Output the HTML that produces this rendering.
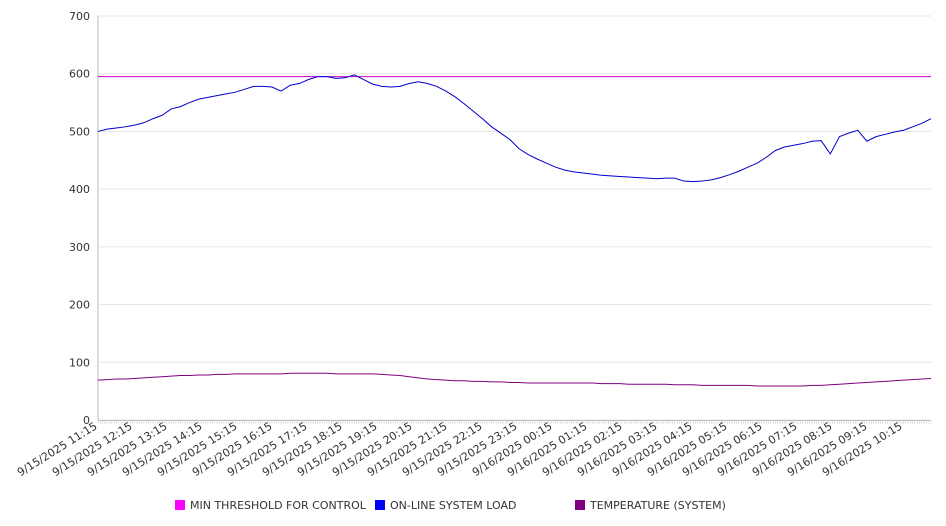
<!DOCTYPE html>
<html><head><meta charset="utf-8">
<style>
html,body{margin:0;padding:0;background:#fff;}
svg{display:block;font-family:"DejaVu Sans","Liberation Sans",sans-serif;}
</style></head>
<body>
<svg id="chart" width="946" height="526" viewBox="0 0 946 526" xmlns="http://www.w3.org/2000/svg">
<g id="grid"></g>
<g id="yaxis"></g>
<g id="xaxis"></g>
<g id="series"></g>
<g id="legend">
  <rect x="175" y="500" width="10" height="10" fill="#ff00ff"/>
  <text x="190" y="509" font-size="11" fill="#333">MIN THRESHOLD FOR CONTROL</text>
  <rect x="375" y="500" width="10" height="10" fill="#0000ff"/>
  <text x="390" y="509" font-size="11" fill="#333">ON-LINE SYSTEM LOAD</text>
  <rect x="575" y="500" width="10" height="10" fill="#800080"/>
  <text x="590" y="509" font-size="11" fill="#333">TEMPERATURE (SYSTEM)</text>
</g>
</svg>
<script>
const tickLabels = ["9/15/2025 11:15","9/15/2025 12:15","9/15/2025 13:15","9/15/2025 14:15","9/15/2025 15:15","9/15/2025 16:15","9/15/2025 17:15","9/15/2025 18:15","9/15/2025 19:15","9/15/2025 20:15","9/15/2025 21:15","9/15/2025 22:15","9/15/2025 23:15","9/16/2025 00:15","9/16/2025 01:15","9/16/2025 02:15","9/16/2025 03:15","9/16/2025 04:15","9/16/2025 05:15","9/16/2025 06:15","9/16/2025 07:15","9/16/2025 08:15","9/16/2025 09:15","9/16/2025 10:15"];
const yTicks = [0,100,200,300,400,500,600,700];
const loadValues = [500,504,506,508,511,515,522,528,539,543,550,556,559,562,565,568,573,578,578,577,570,580,583,590,595,595,592,593,598,590,582,578,577,578,583,586,583,578,570,560,548,535,522,508,497,486,470,460,452,445,438,433,430,428,426,424,423,422,421,420,419,418,419,419,414,413,414,416,420,425,431,438,445,455,467,473,476,479,483,484,461,491,497,502,483,491,495,499,502,508,514,522];
const tempValues = [69,70,71,71,72,73,74,75,76,77,77,78,78,79,79,80,80,80,80,80,80,81,81,81,81,81,80,80,80,80,80,79,78,77,75,73,71,70,69,68,68,67,67,66,66,65,65,64,64,64,64,64,64,64,64,63,63,63,62,62,62,62,62,61,61,61,60,60,60,60,60,60,59,59,59,59,59,59,60,60,61,62,63,64,65,66,67,68,69,70,71,72];
const thresholdValue = 595;
const spanHours = 23.8;

const NS = "http://www.w3.org/2000/svg";
const X0 = 98, X1 = 931, Y0 = 420, Y1 = 16, YMAX = 700;
const n = loadValues.length;
const xScale = i => X0 + i * (X1 - X0) / (n - 1);
const hourX = h => X0 + h * (X1 - X0) / spanHours;
const yScale = v => Y0 - v * (Y0 - Y1) / YMAX;
function mk(tag, attrs, parent){ const e=document.createElementNS(NS,tag); for(const k in attrs) e.setAttribute(k,attrs[k]); parent.appendChild(e); return e; }

const grid = document.getElementById('grid');
const yaxis = document.getElementById('yaxis');
yTicks.forEach(v=>{
  const y = yScale(v);
  const g = mk('line',{x1:X0,x2:X1,y1:y,y2:y,stroke:'#e6e6e6','stroke-width':1},grid);
  
  
  const t = mk('text',{x:90,y:y+4,'text-anchor':'end','font-size':11,fill:'#333'},yaxis);
  
  
  t.textContent = v;
});
const yl = mk('line',{x1:X0,x2:X0,y1:Y1,y2:Y0,stroke:'#bbb','stroke-width':1},yaxis);



const xaxis = document.getElementById('xaxis');
const xl = mk('line',{x1:X0,x2:X1,y1:Y0+0.5,y2:Y0+0.5,stroke:'#bbb','stroke-width':1},xaxis);


for(let k=0;k<=(n-1)*4;k++){
  const x = X0 + k*(X1-X0)/((n-1)*4);
  const m = mk('line',{x1:x,x2:x,y1:Y0,y2:Y0+4,stroke:'#ccc','stroke-width':0.6},xaxis);
  
  
}
tickLabels.forEach((lab,j)=>{
  const x = hourX(j);
  const t = mk('text',{x:x,y:Y0+8,'text-anchor':'end','font-size':11,fill:'#333',transform:`rotate(-32 ${x} ${Y0+8})`},xaxis);
  
  
  t.textContent = lab;
});

const series = document.getElementById('series');
const th = mk('line',{x1:X0,x2:X1,y1:yScale(thresholdValue),y2:yScale(thresholdValue),stroke:'#cc00cc','stroke-width':1},series);


function path(vals,color,name){
  const d = vals.map((v,i)=>(i?'L':'M')+xScale(i).toFixed(2)+','+yScale(v).toFixed(2)).join(' ');
  const p = mk('path',{d:d,fill:'none',stroke:color,'stroke-width':1},series);
  
  
}
path(tempValues,'#800080','temperature-line');
path(loadValues,'#0000cc','system-load-line');
</script>
</body></html>
